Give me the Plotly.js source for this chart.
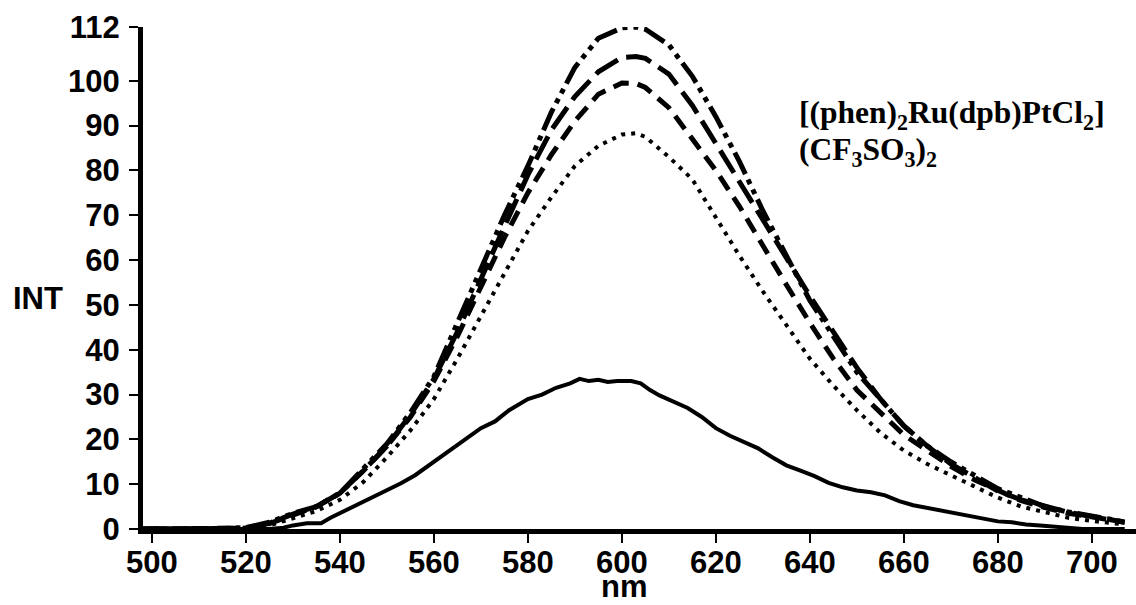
<!DOCTYPE html>
<html>
<head>
<meta charset="utf-8">
<script src="https://cdn.plot.ly/plotly-3.0.1.min.js"></script>
<style>
  html, body { margin: 0; padding: 0; background: #ffffff; }
  #chart { width: 1136px; height: 605px; }
</style>
</head>
<body>
<div id="chart"></div>
<script>
// Wavelength grid (nm) for the four upper curves
const wavelength = [498, 505, 510, 515, 520, 525, 530, 535, 540, 545, 550, 555, 560, 565, 570, 575, 580, 585, 590, 595, 600, 603, 605, 610, 615, 620, 625, 630, 635, 640, 645, 650, 655, 660, 665, 670, 675, 680, 685, 690, 695, 700, 705, 707];

// Dash-dot-dot curve (highest)
const intDashDot = [0, 0, 0, 0.1, 0.3, 1.5, 3.5, 5, 8, 13.5, 19, 26, 34, 46, 58, 70, 81, 93, 103, 109.5, 111.8, 112, 111.5, 108, 101, 92, 82, 71, 61, 51, 43, 35, 29, 23, 18.5, 15, 12, 9, 7, 5, 3.8, 3, 2, 1.5];

// Long-dash curve (~105)
const intDashLong = [0, 0, 0, 0, 0.2, 1.3, 3.3, 5, 8, 13, 18.5, 25.5, 33.5, 44, 56, 67.5, 79, 89, 96.5, 102, 105.2, 105.4, 105, 101.5, 94.5, 86, 77, 68.5, 60, 52, 44, 36, 29, 23, 18.5, 14.5, 11.5, 8.5, 6.5, 5, 3.7, 2.8, 2, 1.5];

// Short-dash curve (~100)
const intDashShort = [0, 0, 0, 0, 0.2, 1.2, 3.2, 5, 8, 13, 18.5, 25, 33, 43, 54, 65, 75, 83.5, 91, 97, 99.5, 99.4, 98.5, 94, 87, 80, 72, 63, 54.5, 46, 38, 31, 26, 21, 17.5, 14, 11, 8.5, 6.3, 4.8, 3.5, 2.7, 2, 1.5];

// Dotted curve (~88)
const intDotted = [0, 0, 0, 0, 0, 0.8, 2.3, 4, 6.5, 10.5, 16, 22, 29, 38, 47.5, 57, 66.5, 74, 81, 85.5, 88, 88.3, 87.5, 83, 78, 69.5, 61, 53, 45.5, 38, 32, 26.5, 21.5, 17.5, 14.5, 12, 9.5, 7, 5, 3.7, 2.5, 1.8, 1.3, 1];

// Solid curve (lowest, ~33)
const wavelengthSolid = [498, 520, 525, 528, 530, 533, 536, 538, 540, 543, 546, 550, 553, 556, 560, 563, 566, 570, 573, 576, 580, 583, 586, 589, 591, 593, 595, 597, 599, 602, 604, 606, 608, 611, 614, 617, 620, 623, 626, 629, 632, 635, 638, 641, 644, 647, 650, 653, 656, 659, 662, 665, 668, 671, 674, 677, 680, 683, 686, 689, 692, 695, 698, 707];
const intSolid = [0, 0, 0, 0.3, 0.8, 1.3, 1.3, 2.5, 3.5, 5, 6.5, 8.5, 10.2, 12, 15, 17.5, 19.5, 22.5, 24, 26.5, 29, 30, 31.5, 32.5, 33.5, 33, 33.3, 32.8, 33, 33, 32.5, 31, 29.8, 28.5, 27, 25, 22.5, 20.8, 19.5, 18, 16, 14.2, 13, 11.8, 10.3, 9.3, 8.6, 8.2, 7.5, 6.2, 5.3, 4.7, 4, 3.4, 2.8, 2.3, 1.7, 1.5, 1, 0.8, 0.5, 0.2, 0, 0];

const xTicks = [500, 520, 540, 560, 580, 600, 620, 640, 660, 680, 700];
const yTicks = [0, 10, 20, 30, 40, 50, 60, 70, 80, 90, 100, 112];

const labelLine1 = "[(phen)<sub>2</sub>Ru(dpb)PtCl<sub>2</sub>]";
const labelLine2 = "(CF<sub>3</sub>SO<sub>3</sub>)<sub>2</sub>";

const sansBold = { family: "Liberation Sans, Arial, sans-serif", size: 31, color: "#000000", weight: "bold" };
const serifBold = { family: "Liberation Serif, Times New Roman, serif", size: 31.5, color: "#000000", weight: "bold" };

const traces = [
  { x: wavelength, y: intDotted, mode: "lines", line: { color: "#000", width: 4, dash: "4px,6px" } },
  { x: wavelength, y: intDashShort, mode: "lines", line: { color: "#000", width: 5, dash: "16px,9px" } },
  { x: wavelength, y: intDashLong, mode: "lines", line: { color: "#000", width: 5, dash: "26px,9px" } },
  { x: wavelength, y: intDashDot, mode: "lines", line: { color: "#000", width: 5, dash: "24px,6px,5px,6px,5px,6px" } },
  { x: wavelengthSolid, y: intSolid, mode: "lines", line: { color: "#000", width: 4 } }
];

const axisCommon = {
  showline: true, linewidth: 5, linecolor: "#000",
  ticks: "outside", ticklen: 9, tickwidth: 2, tickcolor: "#000",
  showgrid: false, zeroline: false, tickfont: sansBold
};

const layout = {
  width: 1136, height: 605,
  margin: { l: 143, r: 0, t: 27, b: 76 },
  paper_bgcolor: "#ffffff", plot_bgcolor: "#ffffff",
  showlegend: false,
  xaxis: Object.assign({}, axisCommon, { range: [498.1, 709.4], tickmode: "array", tickvals: xTicks, ticklabelstandoff: -7 }),
  yaxis: Object.assign({}, axisCommon, { range: [0, 112], tickmode: "array", tickvals: yTicks, ticklabelstandoff: 3 }),
  annotations: [
    { text: "INT", xref: "paper", yref: "paper", x: -0.1057, y: 0.46, xanchor: "center", yanchor: "middle", showarrow: false, font: sansBold },
    { text: "nm", xref: "paper", yref: "paper", x: 0.4844, y: -0.1155, xanchor: "center", yanchor: "middle", showarrow: false, font: sansBold },
    { text: labelLine1, xref: "paper", yref: "paper", x: 0.6586, y: 0.8247, xanchor: "left", yanchor: "middle", showarrow: false, font: serifBold },
    { text: labelLine2, xref: "paper", yref: "paper", x: 0.6586, y: 0.751, xanchor: "left", yanchor: "middle", showarrow: false, font: serifBold }
  ]
};

Plotly.newPlot("chart", traces, layout, { displayModeBar: false, staticPlot: true });
</script>
</body>
</html>
